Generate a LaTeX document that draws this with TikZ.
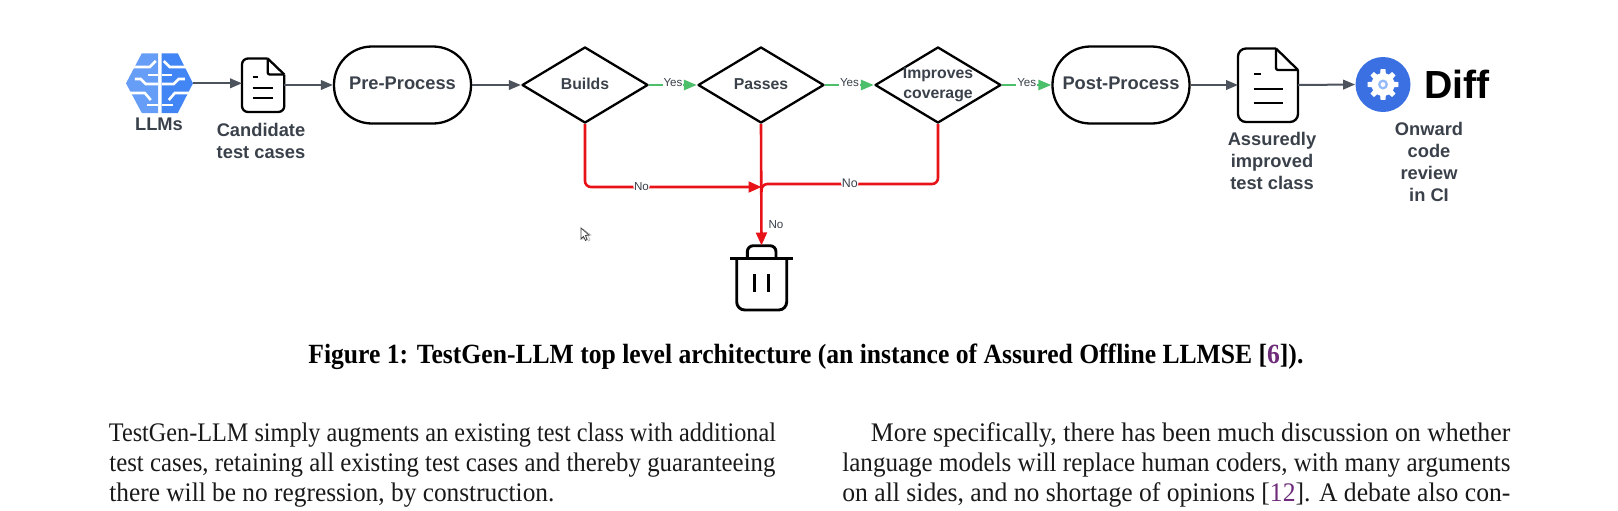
\documentclass[tikz,border=0pt]{standalone}
\usepackage{graphicx}
\usepackage{fontspec}
\setmainfont{Liberation Serif}
\setsansfont{Liberation Sans}
\usetikzlibrary{arrows.meta,shapes.geometric}
\definecolor{txt}{HTML}{3A414A}
\definecolor{conn}{HTML}{4C535D}
\definecolor{okg}{HTML}{4CBF6B}
\definecolor{nored}{HTML}{E81318}
\definecolor{cite}{HTML}{6D2B7A}
\definecolor{brainl}{HTML}{669DF6}
\definecolor{brainr}{HTML}{4285F4}
\definecolor{diffb}{HTML}{3A70E2}
\newcommand{\dtext}[2]{\smash{\makebox[0pt]{\raisebox{#1}{#2}}}}
\newcommand{\fitline}[2]{\resizebox{#1}{\height}{#2}}
\tikzset{
  pill/.style={draw=black,line width=1.15pt,rectangle,rounded corners=19pt,minimum width=68.5pt,minimum height=38.5pt,inner sep=0pt,
    font=\sffamily\bfseries\fontsize{9.15}{11}\selectfont,text=txt,text height=7pt,text depth=2.5pt},
  dia/.style={draw=black,line width=1.15pt,diamond,minimum width=63pt,minimum height=38pt,inner sep=0pt,line join=round,
    font=\sffamily\bfseries\fontsize{7.9}{10}\selectfont,text=txt},
  iconbox/.style={rectangle,inner sep=0pt,outer sep=0pt},
  iconlabel/.style={font=\sffamily\bfseries\fontsize{9.15}{11}\selectfont,text=txt,align=center,inner sep=0pt},
  darrow/.style={draw=conn,line width=1pt,-{Triangle[length=6pt,width=4.8pt]}},
  garrow/.style={draw=okg,line width=1.35pt,-{Triangle[length=6.5pt,width=5pt]}},
  rline/.style={draw=nored,line width=1.3pt},
  rarrow/.style={rline,-{Triangle[length=6.5pt,width=5.4pt]}},
  edgetag/.style={font=\sffamily\fontsize{5.8}{6}\selectfont,text=txt,fill=white,inner sep=.4pt},
  iconline/.style={draw=black,line width=1.15pt,line join=round},
  binline/.style={black,line width=1.45pt},
  brainlines/.style={white,line width=1.3pt},
  para/.style={anchor=base west,inner sep=0pt,font=\fontsize{13.4}{15}\selectfont,text=black!90},
}
\begin{document}
\begin{tikzpicture}[x=.5pt,y=-.5pt]
\useasboundingbox (0,0) rectangle (1618,510);

% brain icon
\node[iconbox,minimum width=33.5pt,minimum height=30pt] (brain) at (159.5,83.3) {};
\begin{scope}[shift={(159.8,0)}]
  \fill[brainl] (-1.8,53.3) -- (-18,53.3) -- (-33.8,83.3) -- (-18,113) -- (-1.8,113) -- cycle;
  \fill[brainr] (1.8,53.3) -- (18,53.3) -- (33.2,83.3) -- (18,113) -- (1.8,113) -- cycle;
  \foreach \s in {-1,1}{
    \begin{scope}[xscale=\s]
      \draw[brainlines] (34,67) -- (10,67) -- (4,61);
      \draw[brainlines] (2,75) -- (12,75);
      \draw[brainlines] (25,79) -- (19,79) -- (14,84) -- (2,84);
      \draw[brainlines] (34,93) -- (15,93) -- (9,100);
      \draw[brainlines] (2,105) -- (13,105);
    \end{scope}
  }
\end{scope}
\node[iconlabel] (llms) at (159,124) {LLMs};

% first document
\node[iconbox,minimum width=21pt,minimum height=27pt] (doc1) at (263,85) {};
\draw[iconline] (267.7,58.5) -- (284.3,74.5);
\draw[iconline,rounded corners=3pt] (267.7,58.5) -- (242,58.5) -- (242,112) -- (284.3,112) -- (284.3,74.5);
\draw[iconline,rounded corners=1pt] (267.7,58.5) -- (267.7,74.5) -- (284.3,74.5);
\draw[black,line width=.95pt] (252.7,77.3) -- (257.7,77.3) (252.7,87.7) -- (273.3,87.7) (252.7,98.3) -- (273.3,98.3);
\node[iconlabel] (cand) at (261,141) {Candidate\\test cases};

% flow shapes
\node[pill] (pre) at (402.5,85) {Pre-Process};
\node[dia] (bui) at (585,85) {\dtext{-2pt}{Builds}};
\node[dia] (pas) at (761,85) {\dtext{-2pt}{Passes}};
\node[dia] (imp) at (938,85) {\dtext{-1.8pt}{\begin{tabular}{@{}c@{}}Improves\\coverage\end{tabular}}};
\node[pill] (post) at (1121,85) {Post-Process};

% second document
\node[iconbox,minimum width=30pt,minimum height=37pt] (doc2) at (1268,85) {};
\draw[iconline] (1276,48.5) -- (1298,70);
\draw[iconline,rounded corners=4pt] (1276,48.5) -- (1238,48.5) -- (1238,122) -- (1298,122) -- (1298,70);
\draw[iconline,rounded corners=1pt] (1276,48.5) -- (1276,70) -- (1298,70);
\draw[black,line width=.95pt] (1253.5,74) -- (1261,74) (1253.5,89) -- (1283,89) (1253.5,103) -- (1283,103);
\node[iconlabel] (assur) at (1272,161) {Assuredly\\improved\\test class};

% diff logo
\node[circle,fill=diffb,minimum size=27.5pt,inner sep=0pt] (diff) at (1383,84.5) {};
\begin{scope}[shift={(diff.center)}]
  \fill[white] (0:15.5)
    \foreach \a in {0,45,...,315}{
      -- (\a-9:15.5) -- (\a+9:15.5) -- (\a+15:11) -- (\a+30:11) -- (\a+36:15.5)
    } -- cycle;
  \fill[white] (0,0) circle[radius=11.5];
  \fill[brainl!70!white] (0,0) circle[radius=5];
  \fill[white] (0,0) circle[radius=2.4];
\end{scope}
\node[anchor=base west,inner sep=0pt,font=\sffamily\bfseries\fontsize{19.6}{22}\selectfont,text=black] (difft) at (1424,98) {Diff};
\node[iconlabel] (onw) at (1429,161.5) {Onward\\code\\review\\in CI};

% bin
\node[iconbox,minimum width=31pt,minimum height=32.5pt] (bin) at (761.5,278) {};
\draw[binline] (730,258.3) -- (792.7,258.3);
\draw[binline,rounded corners=4pt] (736.7,258.3) -- (736.7,310) -- (786.7,310) -- (786.7,258.3);
\draw[binline,rounded corners=3pt] (747.3,258.3) -- (747.3,245.7) -- (776,245.7) -- (776,258.3);
\draw[binline] (754.3,274.3) -- (754.3,292.3) (768.3,274.3) -- (768.3,292.3);

% connectors
\draw[darrow] (brain.east) -- (brain.east -| doc1.west);
\draw[darrow] (doc1.east) -- (pre.west);
\draw[darrow] (pre.east) -- (bui.west);
\draw[garrow] (bui.east) -- node[edgetag,pos=.5,yshift=1pt] (y1) {Yes} (pas.west);
\draw[garrow] (pas.east) -- node[edgetag,pos=.5,yshift=1pt] (y2) {Yes} (imp.west);
\draw[garrow] (imp.east) -- node[edgetag,pos=.5,yshift=1pt] (y3) {Yes} (post.west);
\draw[darrow] (post.east) -- (doc2.west);
\draw[darrow] (doc2.east) -- (diff.west);

\coordinate (j1) at (761.5,187);
\coordinate (j2) at (761.5,184);
\draw[rarrow,rounded corners=3pt] (bui.south) |- node[edgetag,pos=.66,yshift=.4pt] (n1) {No} (j1);
\draw[rline,rounded corners=3pt] (imp.south) |- node[edgetag,pos=.75,yshift=.4pt,font=\sffamily\fontsize{6.2}{7}\selectfont] (n2) {No} (j2) -- (761.5,192);
\draw[rarrow] (pas.south) -- (bin.north);
\node[edgetag,fill=none] (n3) at (776,225) {No};

% cursor
\draw[black!25,line width=.35pt,fill=white] (583,229) -- (583,239) -- (586,236.5) -- (588.5,241) -- (590,240) -- (588,235.5) -- (591,235) -- cycle;
\draw[black!75,line width=.4pt,fill=white] (581,228) -- (581,239) -- (583.5,236.5) -- (585.5,240.5) -- (587,239.5) -- (585.5,235.5) -- (589,235) -- cycle;

% caption and body text
\node[anchor=base west,inner sep=0pt,font=\bfseries\fontsize{13.9}{16}\selectfont,text=black] (capt) at (308,363)
  {\fitline{497.5pt}{Figure 1: TestGen-LLM top level architecture (an instance of Assured Offline LLMSE [\textcolor{cite}{6}]).}};
\node[para] (l1) at (108.5,441) {\fitline{333.5pt}{TestGen-LLM simply augments an existing test class with additional}};
\node[para] (l2) at (109,471) {\fitline{333pt}{test cases, retaining all existing test cases and thereby guaranteeing}};
\node[para] (l3) at (109,501) {\fitline{222.5pt}{there will be no regression, by construction.}};
\node[para] (r1) at (870.5,441) {\fitline{319.7pt}{More specifically, there has been much discussion on whether}};
\node[para] (r2) at (842,471) {\fitline{334pt}{language models will replace human coders, with many arguments}};
\node[para] (r3) at (842,501) {\fitline{334pt}{on all sides, and no shortage of opinions [\textcolor{cite}{12}]. A debate also con-}};
\end{tikzpicture}
\end{document}
